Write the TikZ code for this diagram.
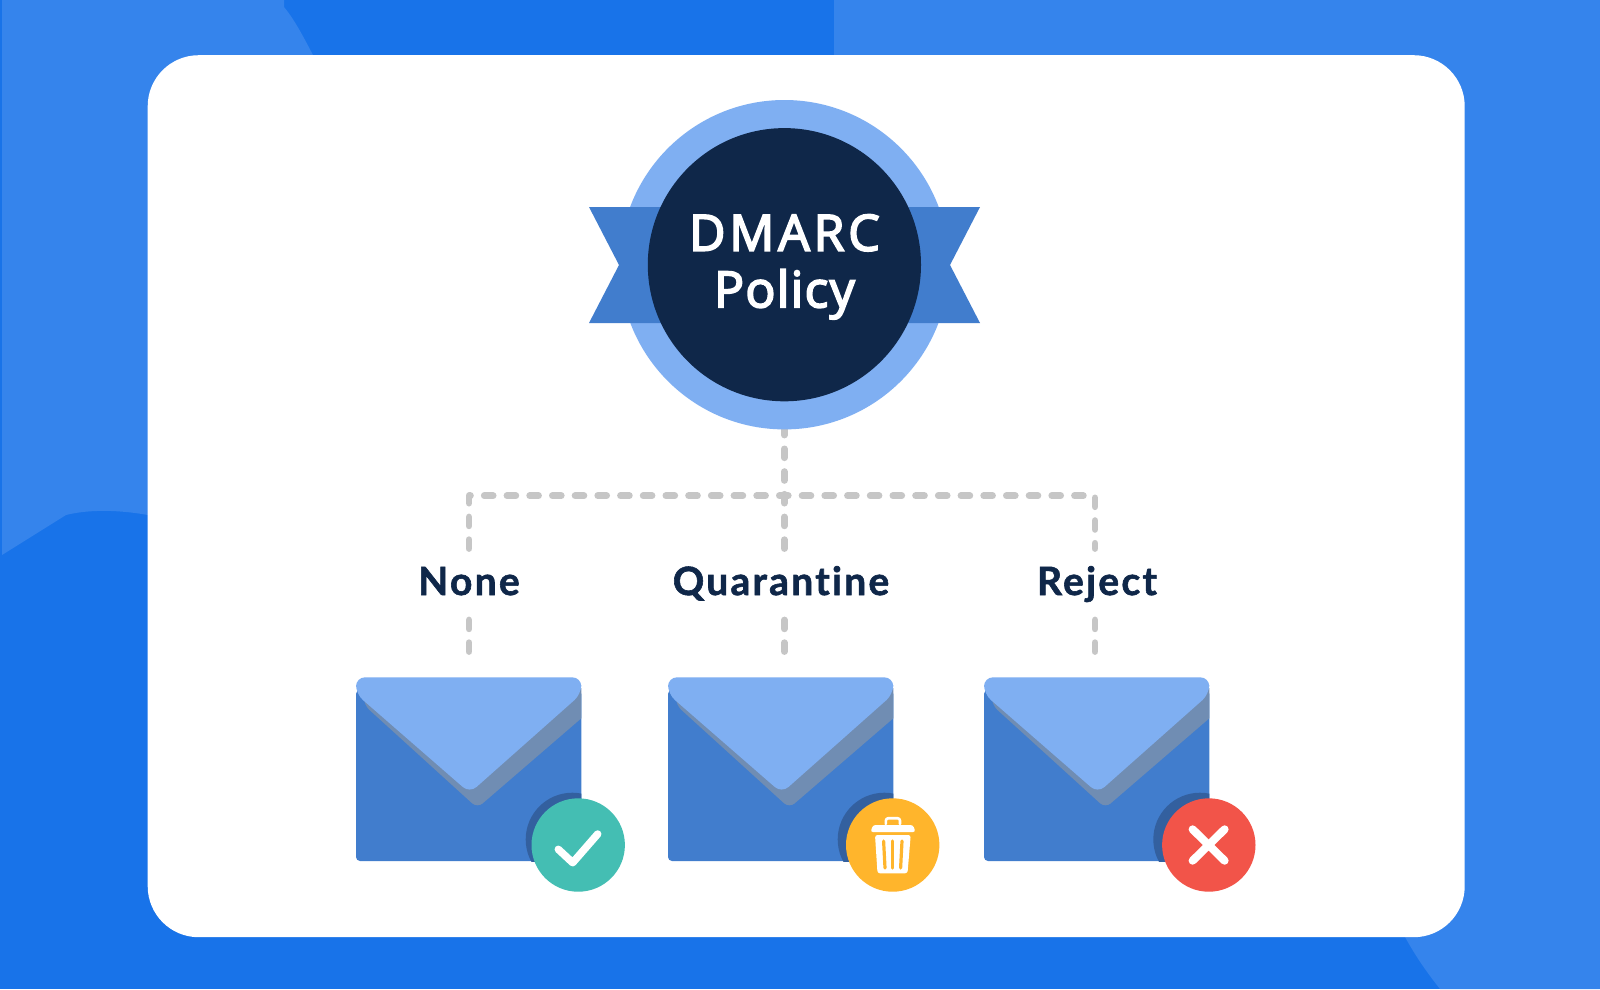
\documentclass[tikz,border=0pt]{standalone}
\usepackage{fontspec}
\setmainfont{Open Sans}
\newfontfamily\titlefont[FakeBold=3.5]{Open Sans}
\newfontfamily\labelfont[LetterSpace=5.8,Ligatures=NoCommon,BoldFeatures={FakeBold=1.5,LetterSpace=5.8,Ligatures=NoCommon}]{Lato}
\definecolor{bgdark}{HTML}{1873E9}
\definecolor{bglight}{HTML}{3584EC}
\definecolor{ribbon}{HTML}{417DCD}
\definecolor{lightblue}{HTML}{7FAFF2}
\definecolor{navy}{HTML}{0F2749}
\definecolor{flapshadow}{HTML}{708DB3}
\definecolor{badgeshadow}{HTML}{33609F}
\definecolor{dashgrey}{HTML}{C6C6C6}
\definecolor{okteal}{HTML}{44BEB3}
\definecolor{binyellow}{HTML}{FFB52C}
\definecolor{nored}{HTML}{F25449}
\tikzset{
  connector/.style={draw=dashgrey,line width=6.8pt,line cap=round,line join=round,dash pattern=on 8.8pt off 13.9pt},
  policytext/.style={text=white,anchor=base,inner sep=0pt,font=\titlefont\fontsize{50}{50}\selectfont},
  choicetext/.style={text=navy,anchor=base,inner sep=0pt,font=\labelfont\bfseries\fontsize{39}{39}\selectfont},
  badgedisc/.style={circle,minimum size=93.4pt,inner sep=0pt},
  iconline/.style={draw=white,line cap=round,line join=round},
}
% #1 left edge of the envelope, #2 shadow disc x, #3 badge x, #4 badge colour, #5 node name
\newcommand{\mailicon}[5]{
  \begin{scope}[shift={(#1,0)}]
    \fill[ribbon,rounded corners=4pt] (0,690) -- (0,861) -- (225.3,861) -- (225.3,690) -- cycle;
    \begin{scope}
      \clip (0,688) rectangle (225.3,861);
      \fill[flapshadow,rounded corners=7pt] (8,680) -- (8,705) -- (121.3,808) -- (250,697) -- (250,680) -- cycle;
    \end{scope}
    \fill[lightblue,rounded corners=9pt] (0,677.3) -- (225.3,677.3) -- (225.3,694) -- (113.7,793) -- (0,694) -- cycle;
  \end{scope}
  \begin{scope}
    \clip (#1,677.3) rectangle ({#1+225.3},861);
    \fill[badgeshadow] (#2,839.4) circle (46.7pt);
  \end{scope}
  \node[badgedisc,fill=#4] (#5) at (#3,845) {};
}
\begin{document}
\begin{tikzpicture}[x=1pt,y=-1pt]
\useasboundingbox (0,0) rectangle (1600,989);
\fill[bgdark] (0,0) rectangle (1600,989);
\fill[bglight] (2,0) -- (284,0) -- (284,7) .. controls (295,20) and (305,40) .. (313,55) -- (313,560) -- (148,515)
  .. controls (120,510) and (90,509) .. (66,515) -- (2,555) -- cycle;
\fill[bglight] (834,0) -- (1600,0) -- (1600,989) -- (1440,989) .. controls (1425,970) and (1415,955) .. (1405,937) -- (834,937) -- cycle;
\node[fill=white,rounded corners=51pt,minimum width=1317pt,minimum height=882pt,inner sep=0pt,anchor=north west] (card) at (147.5,55) {};

\coordinate (noneturn) at (469,495.7);
\coordinate (rejectturn) at (1095,495.7);
\coordinate (nonetop) at (469,548.5);
\coordinate (midtop) at (784.3,548.5);
\coordinate (rejecttop) at (1095,548.5);
\coordinate (nonelow) at (469,620);
\coordinate (midlow) at (784.3,620);
\coordinate (rejectlow) at (1095,620);
\coordinate (noneend) at (469,652);
\coordinate (midend) at (784.3,652);
\coordinate (rejectend) at (1095,652);
\coordinate (badgefoot) at (784.3,420);

\path[connector] (nonetop) -- (noneturn) -- (rejectturn) -- (rejecttop);
\path[connector] (midtop) -- (badgefoot);
\path[connector] (nonelow) -- (noneend);
\path[connector] (midlow) -- (midend);
\path[connector] (rejectlow) -- (rejectend);

\node[circle,fill=lightblue,minimum size=329.4pt,inner sep=0pt] (outer) at (784.4,264.7) {};
\fill[ribbon] (589,207) -- (700,207) -- (700,323) -- (589,323) -- (619,265) -- cycle;
\fill[ribbon] (980,207) -- (870,207) -- (870,323) -- (980,323) -- (950,265) -- cycle;
\node[circle,fill=navy,minimum size=273.2pt,inner sep=0pt] (badge) at (784.4,264.7) {};
\node[policytext] (dmarc) at (784.4,250.7) {\addfontfeature{LetterSpace=7.5}DMARC};
\node[policytext] (policy) at (784.4,307.3) {\addfontfeature{LetterSpace=2.5}Policy};

\node[choicetext] (none) at (469,595) {None};
\node[choicetext] (quarantine) at (781,595) {Quarantine};
\node[choicetext] (reject) at (1097,595) {Reject};

\mailicon{356}{572.4}{578.2}{okteal}{okbadge}
\mailicon{668}{884.4}{892.7}{binyellow}{binbadge}
\mailicon{984}{1200}{1208.8}{nored}{nobadge}

% check mark
\draw[iconline,line width=7.5pt] (558.3,849.3) -- (572.7,862.7) -- (597.7,834);
% cross
\draw[iconline,line width=8pt] (1192.6,829.3) -- (1224.6,860.7);
\draw[iconline,line width=8pt] (1224.6,829.3) -- (1192.6,860.7);
% bin
\draw[iconline,line width=2.6pt,rounded corners=2.5pt] (885.8,824) -- (885.8,818.2) -- (900,818.2) -- (900,824);
\fill[white,rounded corners=2.5pt] (870.5,832) -- (873,825) -- (913,825) -- (915.5,832) -- cycle;
\fill[white,rounded corners=2.5pt] (875,835) -- (910.7,835) -- (907.5,873.3) -- (877.5,873.3) -- cycle;
\draw[binyellow,line width=3.2pt,line cap=round] (883.6,841) -- (885,868);
\draw[binyellow,line width=3.2pt,line cap=round] (892.8,841) -- (892.8,868);
\draw[binyellow,line width=3.2pt,line cap=round] (902,841) -- (900.6,868);
\end{tikzpicture}
\end{document}
